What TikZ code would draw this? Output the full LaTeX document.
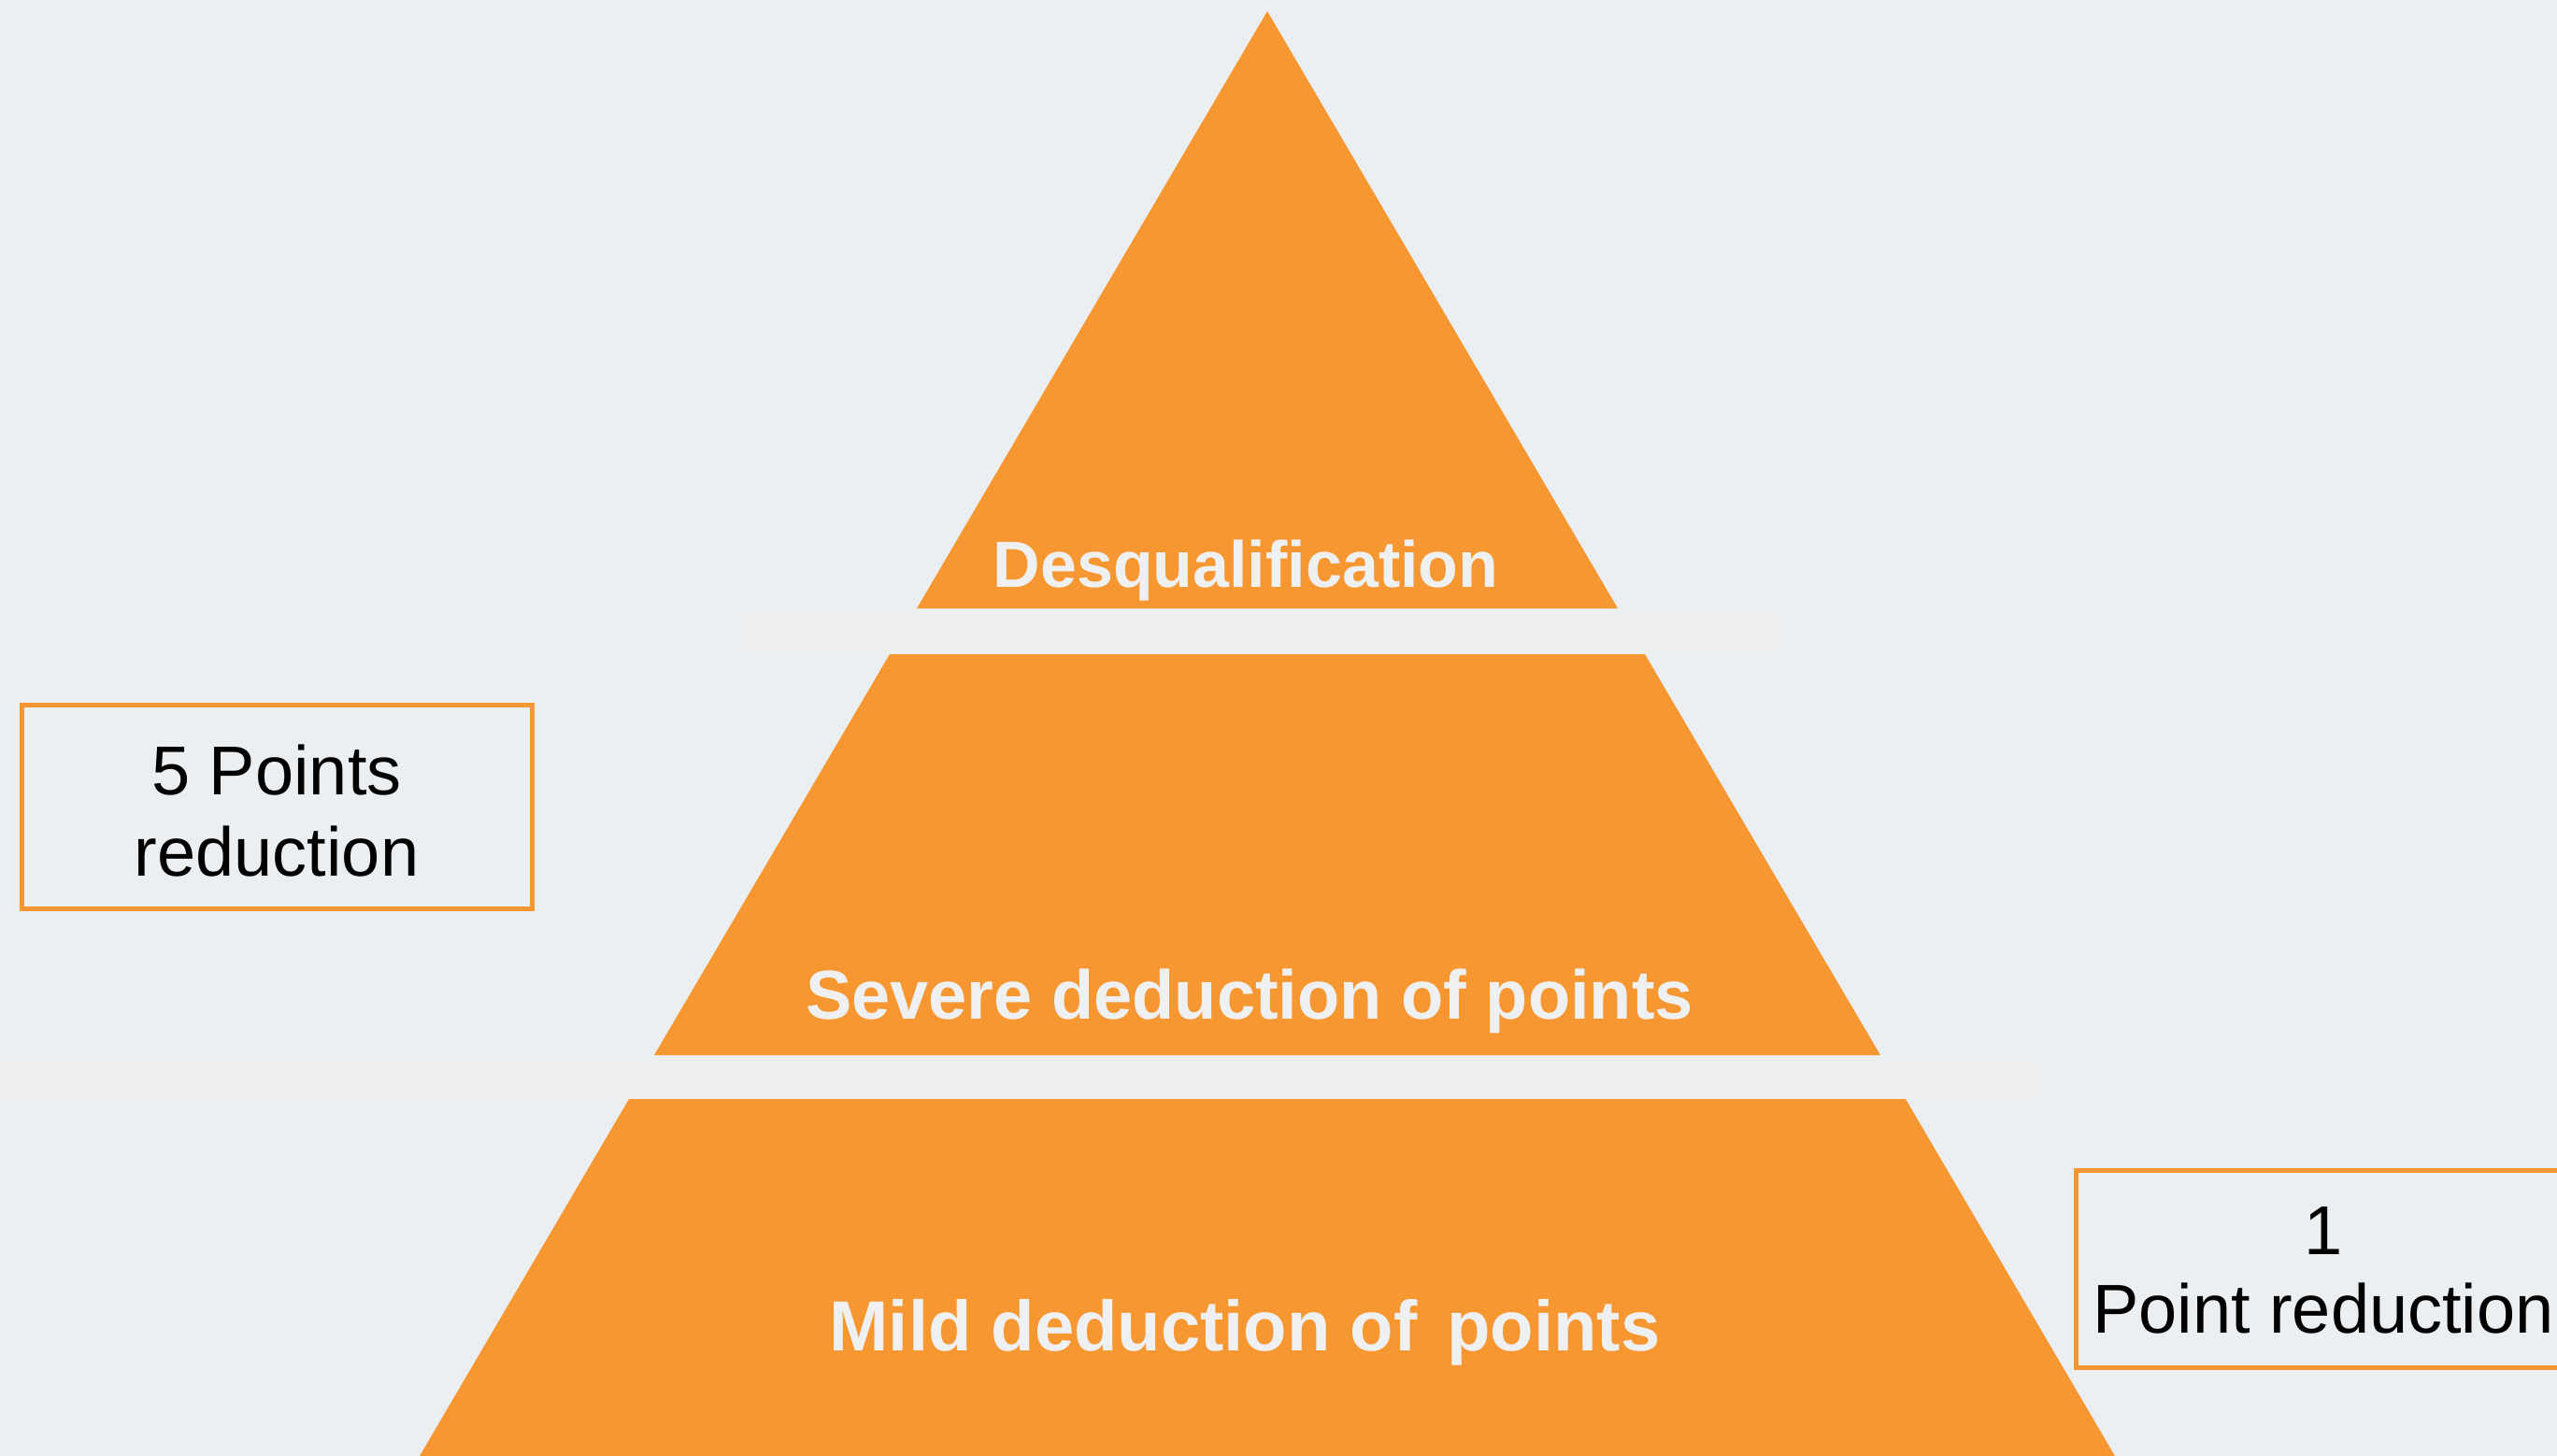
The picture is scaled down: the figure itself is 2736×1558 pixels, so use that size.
\documentclass[tikz,border=0pt]{standalone}
\usepackage{fontspec}
\setmainfont{Liberation Sans}
\definecolor{tierorange}{HTML}{F79731}
\definecolor{pagebg}{HTML}{EBEFF2}
\definecolor{gapband}{HTML}{EDEFF1}
\definecolor{tiertext}{HTML}{EEF0F2}
\begin{document}
\begin{tikzpicture}[x=1pt,y=-1pt,
  tier/.style={fill=tierorange, draw=none},
  tierlabel/.style={text=tiertext, inner sep=0pt, anchor=base},
  notebox/.style={draw=tierorange, line width=5pt, fill=none, inner sep=0pt},
  notetext/.style={align=center, text=black, inner sep=0pt, anchor=base}]
\useasboundingbox (0,0) rectangle (2736,1558);
\clip (0,0) rectangle (2736,1558);
\fill[pagebg] (0,0) rectangle (2736,1558);
% faint bands behind the gaps between tiers
\fill[gapband, rounded corners=6pt] (785,651) rectangle (1911,700);
\fill[gapband] (0,1129) rectangle (2190,1176);

% pyramid tiers
\fill[tier] (1356,12) -- (1731,651) -- (981,651) -- cycle;
\fill[tier] (952,700) -- (1760,700) -- (2012,1129) -- (700,1129) -- cycle;
\fill[tier] (673,1176) -- (2039,1176) -- (2263,1558) -- (449,1558) -- cycle;

% tier labels
\node[tierlabel, font=\fontsize{70}{84}\selectfont\bfseries] (toplabel) at (1333,628) {Desqualification};
\node[tierlabel, font=\fontsize{74}{88}\selectfont\bfseries] (midlabel) at (1337,1090) {Severe deduction of points};
\node[tierlabel, font=\fontsize{76}{90}\selectfont\bfseries] (lowlabel) at (1332,1445) {Mild deduction of\hspace{0.42em}points};

% side notes (base anchor sits on the last line)
\node[notebox, minimum width=546pt, minimum height=218pt] (leftbox) at (296,863) {};
\node[notetext, font=\fontsize{74}{87}\selectfont] (lefttext) at (296,937) {5 Points\\reduction};
\node[notebox, minimum width=539pt, minimum height=211pt] (rightbox) at (2490.5,1357.5) {};
\node[notetext, font=\fontsize{74}{84}\selectfont] (righttext) at (2486,1426) {1\\Point reduction};
\end{tikzpicture}
\end{document}
